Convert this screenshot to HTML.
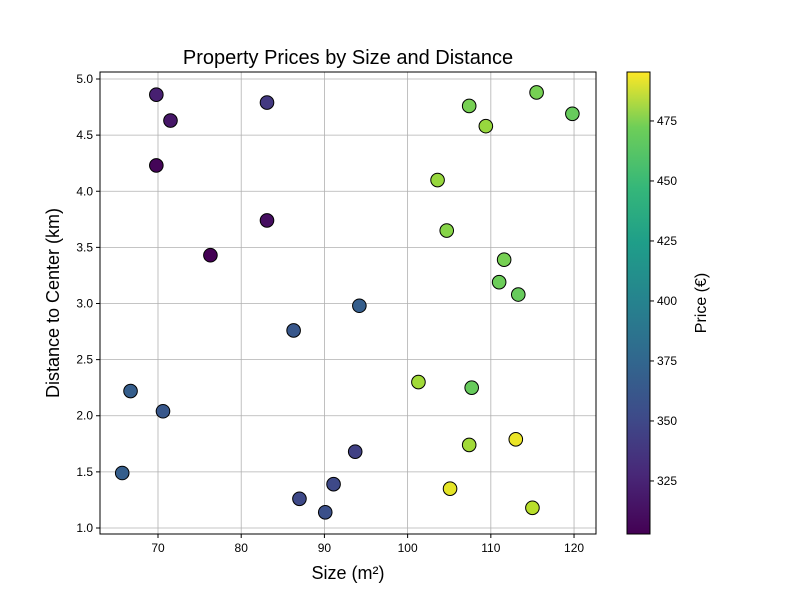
<!DOCTYPE html>
<html><head><meta charset="utf-8"><style>
body{margin:0;background:#fff;font-family:"Liberation Sans","DejaVu Sans",sans-serif}
</style></head><body>
<svg id="c" width="800" height="600" xmlns="http://www.w3.org/2000/svg">
<defs><linearGradient id="vir" x1="0" y1="1" x2="0" y2="0">
<stop offset="0" stop-color="#440154"/><stop offset="0.13" stop-color="#482878"/>
<stop offset="0.25" stop-color="#3e4a89"/><stop offset="0.38" stop-color="#31688e"/>
<stop offset="0.5" stop-color="#26828e"/><stop offset="0.63" stop-color="#1f9e89"/>
<stop offset="0.75" stop-color="#35b779"/><stop offset="0.88" stop-color="#6ece58"/>
<stop offset="1" stop-color="#fde725"/></linearGradient></defs>
</svg>
<script>
const sizes=[69.8,71.5,69.8,76.3,83.1,83.1,86.3,94.2,66.7,70.6,65.7,93.7,87.0,91.1,90.1,115.5,119.8,107.4,109.4,103.6,104.7,111.6,111.0,113.3,101.3,107.7,107.4,113.0,105.1,115.0];
const distances=[4.86,4.63,4.23,3.43,4.79,3.74,2.76,2.98,2.22,2.04,1.49,1.68,1.26,1.39,1.14,4.88,4.69,4.76,4.58,4.10,3.65,3.39,3.19,3.08,2.30,2.25,1.74,1.79,1.35,1.18];
const prices=[320,315,305,303,335,310,355,360,360,355,360,340,345,345,350,455,450,455,465,465,460,455,452,450,468,450,468,490,488,475];
const xTicks=[70,80,90,100,110,120];
const yTicks=[1.0,1.5,2.0,2.5,3.0,3.5,4.0,4.5,5.0];
const cTicks=[325,350,375,400,425,450,475];
const L=100,R=596,T=72,B=534;
const X0=63.03,X1=122.64,Y0=0.9465,Y1=5.0624,C0=302.9,C1=495.4;
const sx=v=>L+(v-X0)/(X1-X0)*(R-L), sy=v=>B-(v-Y0)/(Y1-Y0)*(B-T), sc=v=>B-(v-C0)/(C1-C0)*(B-T);
const vir=[[68,1,84],[72,40,120],[62,74,137],[49,104,142],[38,130,142],[31,158,137],[53,183,121],[110,206,88],[181,222,43],[253,231,37]];
function col(v){let t=Math.max(0,Math.min(1,(v-C0)/(C1-C0)))*(vir.length-1);let i=Math.min(Math.floor(t),vir.length-2),f=t-i;
return 'rgb('+vir[i].map((a,k)=>Math.round(a+(vir[i+1][k]-a)*f)).join(',')+')';}
const svg=document.getElementById('c');const NS='http://www.w3.org/2000/svg';
function mk(tag,at,txt,name,parent){const e=document.createElementNS(NS,tag);for(const k in at)e.setAttribute(k,at[k]);if(txt!=null)e.textContent=txt;


(parent||svg).appendChild(e);return e;}
mk('text',{x:348,y:64,'font-size':20,'text-anchor':'middle',fill:'#000'},'Property Prices by Size and Distance','chart-title');
xTicks.forEach(v=>{const x=sx(v);mk('line',{x1:x,x2:x,y1:T,y2:B,stroke:'#b0b0b0','stroke-width':0.8},null,'x-grid-line');
mk('line',{x1:x,x2:x,y1:B,y2:B+4,stroke:'#000'},null,'x-tick');
mk('text',{x:x,y:B+18,'font-size':12,'text-anchor':'middle'},v,'x-tick-label');});
yTicks.forEach(v=>{const y=sy(v);mk('line',{x1:L,x2:R,y1:y,y2:y,stroke:'#b0b0b0','stroke-width':0.8},null,'y-grid-line');
mk('line',{x1:L-4,x2:L,y1:y,y2:y,stroke:'#000'},null,'y-tick');
mk('text',{x:L-7,y:y+4,'font-size':12,'text-anchor':'end'},v.toFixed(1),'y-tick-label');});
sizes.forEach((s,i)=>{mk('circle',{cx:sx(s),cy:sy(distances[i]),r:6.8,fill:col(prices[i]),stroke:'#000','stroke-width':1},null,'data-point');});
mk('rect',{x:L,y:T,width:R-L,height:B-T,fill:'none',stroke:'#000','stroke-width':1},null,'plot-frame');
mk('text',{x:348,y:579,'font-size':18,'text-anchor':'middle'},'Size (m²)','x-axis-title');
mk('text',{x:0,y:0,'font-size':18,'text-anchor':'middle',transform:'translate(59,303) rotate(-90)'},'Distance to Center (km)','y-axis-title');
mk('rect',{x:627,y:T,width:23,height:B-T,fill:'url(#vir)',stroke:'#000','stroke-width':1},null,'colorbar');
cTicks.forEach(v=>{const y=sc(v);mk('line',{x1:650,x2:654,y1:y,y2:y,stroke:'#000'},null,'colorbar-tick');
mk('text',{x:657,y:y+4,'font-size':12},v,'colorbar-tick-label');});
mk('text',{x:0,y:0,'font-size':16,'text-anchor':'middle',transform:'translate(706,303) rotate(-90)'},'Price (€)','colorbar-title');
</script>
</body></html>
